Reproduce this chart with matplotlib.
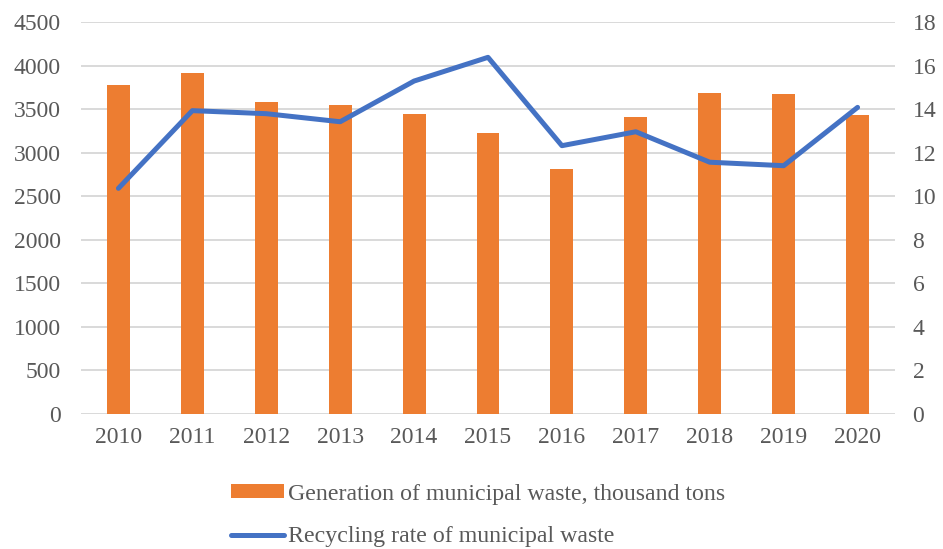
import numpy as np
import matplotlib.pyplot as plt

years = ['2010', '2011', '2012', '2013', '2014', '2015', '2016', '2017', '2018', '2019', '2020']
waste_generation = [3780, 3918, 3585, 3547, 3447, 3232, 2811, 3413, 3692, 3673, 3439]
recycling_rate = [10.37, 13.94, 13.80, 13.43, 15.30, 16.39, 12.33, 12.97, 11.57, 11.41, 14.09]

plt.rcParams['font.family'] = ['Liberation Serif', 'DejaVu Serif']

fig = plt.figure(figsize=(9.43, 5.49), dpi=100)
ax = fig.add_axes([0.0864, 0.2459, 0.8622, 0.7135])
ax2 = ax.twinx()

x = np.arange(len(years))
bars = ax.bar(x, waste_generation, width=0.31, color='#ED7D31', zorder=2,
              label='Generation of municipal waste, thousand tons')
line, = ax2.plot(x, recycling_rate, color='#4472C4', linewidth=3.6,
                 solid_capstyle='round', solid_joinstyle='round',
                 label='Recycling rate of municipal waste')

ax.set_xlim(-0.5, len(years) - 0.5)
ax.set_ylim(0, 4500)
ax.set_yticks(np.arange(0, 4501, 500))
ax2.set_ylim(0, 18)
ax2.set_yticks(np.arange(0, 19, 2))
ax.set_xticks(x)
ax.set_xticklabels(years)

ax.yaxis.grid(True, color='#D9D9D9', linewidth=1.4, zorder=0)
ax.set_axisbelow(True)
for a in (ax, ax2):
    for s in a.spines.values():
        s.set_visible(False)
    a.tick_params(length=0, labelsize=17, labelcolor='#595959')
ax.tick_params(axis='y', pad=15)
ax2.tick_params(axis='y', pad=13)
ax.tick_params(axis='x', pad=9)

fig.legend([bars, line], [bars.get_label(), line.get_label()], loc='center',
           bbox_to_anchor=(0.507, 0.061), ncol=1, frameon=False, fontsize=17.2,
           labelcolor='#595959', handlelength=2.2, handleheight=0.5,
           handletextpad=0.15, labelspacing=0.9, borderpad=0)

fig.savefig('out.png', dpi=100)
